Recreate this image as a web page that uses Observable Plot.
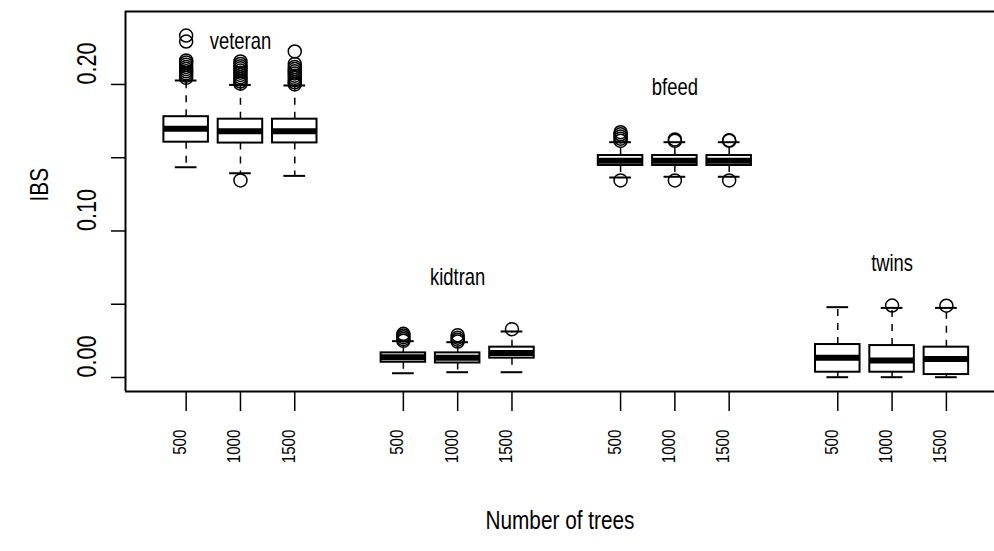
<!DOCTYPE html>
<html>
<head>
<meta charset="utf-8">
<script src="https://cdn.jsdelivr.net/npm/d3@7"></script>
<script src="https://cdn.jsdelivr.net/npm/@observablehq/plot@0.6"></script>
<style>
  html, body { margin: 0; padding: 0; background: #fff; }
  #chart { width: 994px; height: 551px; overflow: hidden; }
</style>
</head>
<body>
<div id="chart"></div>
<script>
// ---------- data ----------
const groups = ["veteran", "kidtran", "bfeed", "twins"];
const trees = [500, 1000, 1500];
// order: veteran 500/1000/1500, kidtran ..., bfeed ..., twins ...
const lowWhisker  = [0.1435, 0.1394, 0.1376, 0.0029, 0.0036, 0.0036, 0.1365, 0.1370, 0.1370, 0.0002, 0.0002, 0.0002];
const q1          = [0.1606, 0.1600, 0.1601, 0.0104, 0.0099, 0.0132, 0.1447, 0.1447, 0.1447, 0.0036, 0.0036, 0.0020];
const median      = [0.1697, 0.1680, 0.1680, 0.0139, 0.0135, 0.0168, 0.1480, 0.1480, 0.1480, 0.0134, 0.0116, 0.0127];
const q3          = [0.1780, 0.1763, 0.1763, 0.0168, 0.0168, 0.0207, 0.1515, 0.1515, 0.1515, 0.0225, 0.0218, 0.0207];
const highWhisker = [0.2027, 0.1997, 0.1993, 0.0248, 0.0241, 0.0314, 0.1606, 0.1606, 0.1606, 0.0480, 0.0475, 0.0475];
const outliers = [
  [0.2045, 0.2060, 0.2075, 0.2090, 0.2105, 0.2120, 0.2135, 0.2150, 0.2164, 0.2293, 0.2334],
  [0.1345, 0.2005, 0.2020, 0.2035, 0.2050, 0.2065, 0.2080, 0.2095, 0.2110, 0.2125, 0.2140, 0.2157],
  [0.2000, 0.2015, 0.2030, 0.2045, 0.2060, 0.2075, 0.2090, 0.2105, 0.2120, 0.2140, 0.2225],
  [0.0250, 0.0262, 0.0275, 0.0287, 0.0298],
  [0.0245, 0.0258, 0.0272, 0.0289],
  [0.0330],
  [0.1345, 0.1615, 0.1630, 0.1645, 0.1660, 0.1674],
  [0.1345, 0.1615, 0.1625],
  [0.1345, 0.1615, 0.1620],
  [],
  [0.0491],
  [0.0490]
];
const groupLabelY = [0.229, 0.068, 0.198, 0.078];
const yTicks = [0, 0.05, 0.10, 0.15, 0.20];
const yTickLabels = [0, 0.10, 0.20];
const xTitle = "Number of trees";
const yTitle = "IBS";

// ---------- derived table ----------
const boxes = [];
groups.forEach((g, gi) => trees.forEach((t, ti) => {
  const i = gi * 3 + ti;
  boxes.push({group: g, trees: t, pos: gi * 4 + ti + 1,
    lo: lowWhisker[i], q1: q1[i], med: median[i], q3: q3[i], hi: highWhisker[i], out: outliers[i]});
}));
const outPts = boxes.flatMap(b => b.out.map(v => ({pos: b.pos, v})));
const labels = groups.map((g, gi) => ({group: g, pos: gi * 4 + 2, v: groupLabelY[gi]}));

const xDomain = [-0.117, 15.886];
const yDomain = [-0.00956, 0.2498];
const half = 0.41, cap = 0.2;

const chart = Plot.plot({
  width: 994, height: 551,
  marginLeft: 125, marginRight: 0, marginTop: 11, marginBottom: 160,
  x: {type: "linear", domain: xDomain, axis: null},
  y: {type: "linear", domain: yDomain, axis: null},
  style: {fontFamily: "'Liberation Sans', Arial, sans-serif", background: "white", color: "black"},
  marks: [
    // frame (top, bottom, left)
    Plot.ruleY([yDomain[1], yDomain[0]], {stroke: "black", strokeWidth: 2}),
    Plot.ruleX([xDomain[0]], {stroke: "black", strokeWidth: 2}),
    // y axis ticks + labels
    Plot.axisY({ticks: yTicks, tickSize: 14, tickFormat: () => "", label: null, strokeWidth: 1.5}),
    Plot.text(yTickLabels, {y: d => d, text: d => d.toFixed(2), frameAnchor: "left", dx: -38, rotate: -90, fontSize: 27}),
    // x ticks + labels
    Plot.axisX({ticks: boxes.map(b => b.pos), tickSize: 20, tickFormat: () => "", label: null, strokeWidth: 1.5}),
    Plot.text(boxes, {x: "pos", text: d => String(d.trees), frameAnchor: "bottom", dy: 38, rotate: -90, textAnchor: "end", fontSize: 19}),
    // titles
    Plot.text([yTitle], {frameAnchor: "left", dx: -86, rotate: -90, fontSize: 26}),
    Plot.text([xTitle], {frameAnchor: "bottom", dy: 137, fontSize: 26}),
    // whiskers (dashed)
    Plot.ruleX(boxes, {x: "pos", y1: "q3", y2: "hi", stroke: "black", strokeWidth: 1.5, strokeDasharray: "7,7"}),
    Plot.ruleX(boxes, {x: "pos", y1: "q1", y2: "lo", stroke: "black", strokeWidth: 1.5, strokeDasharray: "7,7"}),
    // whisker caps
    Plot.ruleY(boxes, {y: "hi", x1: d => d.pos - cap, x2: d => d.pos + cap, stroke: "black", strokeWidth: 2}),
    Plot.ruleY(boxes, {y: "lo", x1: d => d.pos - cap, x2: d => d.pos + cap, stroke: "black", strokeWidth: 2}),
    // boxes
    Plot.rect(boxes, {x1: d => d.pos - half, x2: d => d.pos + half, y1: "q1", y2: "q3", fill: "white", stroke: "black", strokeWidth: 2}),
    // medians
    Plot.ruleY(boxes, {y: "med", x1: d => d.pos - half, x2: d => d.pos + half, stroke: "black", strokeWidth: 6}),
    // outliers
    Plot.dot(outPts, {x: "pos", y: "v", r: 6.5, stroke: "black", strokeWidth: 1.5, fill: "none"}),
    // group labels
    Plot.text(labels, {x: "pos", y: "v", text: "group", fontSize: 23})
  ]
});
// condensed lettering, as in the reference (narrow Helvetica)
d3.select(chart).selectAll("text").each(function () {
  const el = d3.select(this);
  const t = el.attr("transform");
  const x = el.attr("x"), y = el.attr("y");
  if (t) {
    el.attr("transform", t + " scale(0.8,1)");
  } else {
    el.attr("transform", `translate(${x || 0},${y || 0}) scale(0.8,1)`).attr("x", null).attr("y", null);
  }
});
document.getElementById("chart").appendChild(chart);
</script>
</body>
</html>
